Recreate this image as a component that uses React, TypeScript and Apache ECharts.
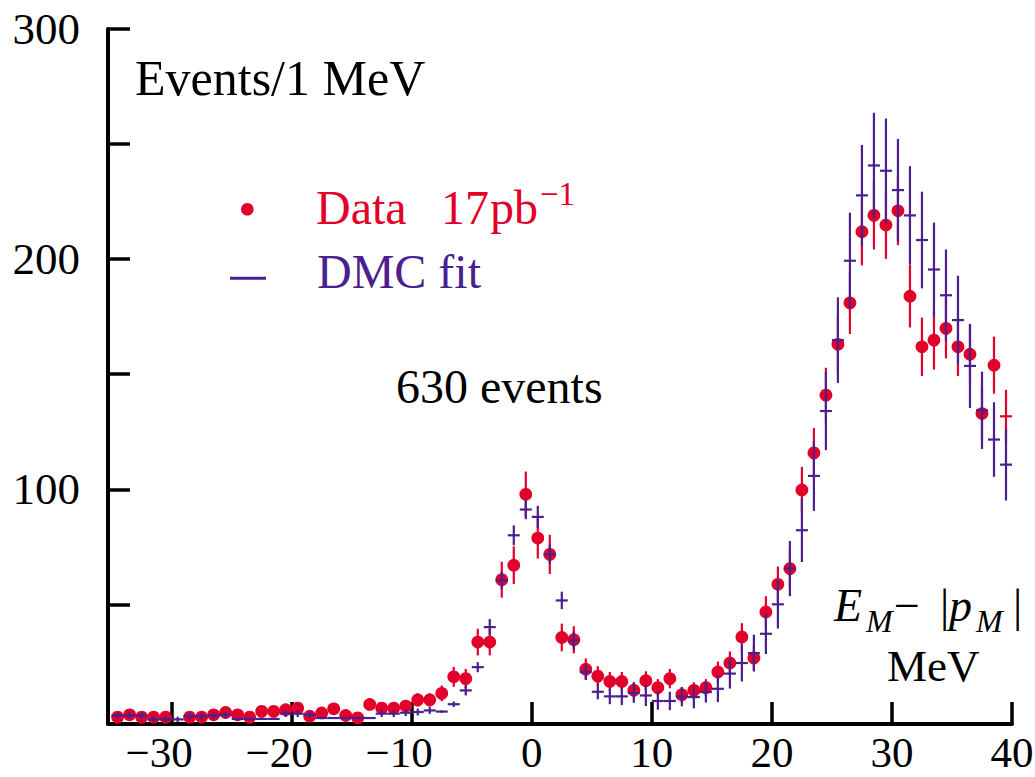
import React, { useEffect, useRef } from "react";
import * as echarts from "echarts";

// ---------- data ----------
const binCenters = [
  -34.5, -33.5, -32.5, -31.5, -30.5, -29.5, -28.5, -27.5, -26.5, -25.5,
  -24.5, -23.5, -22.5, -21.5, -20.5, -19.5, -18.5, -17.5, -16.5, -15.5,
  -14.5, -13.5, -12.5, -11.5, -10.5, -9.5, -8.5, -7.5, -6.5, -5.5,
  -4.5, -3.5, -2.5, -1.5, -0.5, 0.5, 1.5, 2.5, 3.5, 4.5,
  5.5, 6.5, 7.5, 8.5, 9.5, 10.5, 11.5, 12.5, 13.5, 14.5,
  15.5, 16.5, 17.5, 18.5, 19.5, 20.5, 21.5, 22.5, 23.5, 24.5,
  25.5, 26.5, 27.5, 28.5, 29.5, 30.5, 31.5, 32.5, 33.5, 34.5,
  35.5, 36.5, 37.5, 38.5, 39.5,
];

const dataCounts: (number | null)[] = [
  1, 2, 1, 1, 1, null, 1, 1, 2, 3,
  2, 1, 3.5, 3.5, 4.2, 4.9, 1.4, 2.8, 4.6, 1.7,
  0.7, 6.5, 4.9, 4.9, 5.8, 8.5, 8.5, 11.3, 18.5, 17.7,
  33.6, 33.6, 60.7, 67, 97.8, 78.8, 71.7, 35.6, 34.6, 21.8,
  18.8, 16.5, 16.5, 12.7, 16.8, 13.8, 17.7, 10.7, 12.6, 13.8,
  20.6, 24.5, 35.8, 26.7, 46.7, 58.7, 65.5, 99.7, 115.8, 140.9,
  163, 181, 211.9, 219, 214.8, 221, 183.9, 161.9, 164.8, 169.9,
  161.9, 158.7, 132.9, 153.9, 131.7,
];

const dataErrors = [
  1, 1.4, 1, 1, 1, 0, 1, 1, 1.4, 1.7,
  1.4, 1, 1.9, 1.9, 2, 2.2, 1.2, 1.7, 2.1, 1.3,
  0.8, 2.5, 2.2, 2.2, 2.4, 2.9, 2.9, 3.4, 4.3, 4.2,
  5.8, 5.8, 7.8, 8.2, 9.9, 8.9, 8.5, 6, 5.9, 4.7,
  4.3, 4.1, 4.1, 3.6, 4.1, 3.7, 4.2, 3.3, 3.5, 3.7,
  4.5, 5, 6, 5.2, 6.8, 7.7, 8.1, 10, 10.8, 11.9,
  12.8, 13.5, 14.6, 14.8, 14.7, 14.9, 13.6, 12.7, 12.8, 13,
  12.7, 12.6, 11.5, 12.4, 11.5,
];

// data bins drawn without a dot (only a cross)
const dataNoDot = [39.5];

const fitValues = [
  1.7, 1.7, 1.7, 0, 0, 0, 1.4, 1.4, 1.7, 2,
  0.2, 0.2, 0.2, 0.2, 2.5, 2.5, 2, 0.6, 0.6, 0.6,
  0.6, 0.6, 2.5, 2.5, 2.9, 3.2, 3.9, 3.4, 6.6, 12.6,
  22.7, 40.1, 60.4, 80, 91.2, 88, 71.7, 51.7, 34.3, 20.6,
  12, 10, 10, 11.5, 10.4, 8, 8, 9.9, 9.7, 11.9,
  13.3, 19.9, 24.5, 28.8, 37.2, 50, 65.5, 82.2, 105.8, 134,
  164.8, 199.3, 227.7, 240.7, 238.4, 230, 219, 208.3, 195.5, 184.3,
  173.5, 153.6, 134.3, 121.6, 110.7,
];

const fitErrors = [
  1.5, 1.5, 1.5, 1.2, 1.2, 1.2, 1.5, 1.5, 1.5, 1.5,
  0, 0, 0, 0, 1.5, 1.5, 1.5, 0, 0, 0,
  0, 0, 1.5, 1.5, 1.5, 1.5, 1.5, 0.5, 1.2, 2.2,
  2.2, 3.5, 3.8, 4.3, 4.2, 4.8, 4.2, 3.8, 4, 3.3,
  3.3, 3.4, 3.8, 4.3, 4.6, 3.8, 4, 4.2, 4.9, 4.6,
  5.8, 6.5, 8, 8, 8.8, 10.5, 12, 13.8, 15.2, 17,
  18.6, 20.9, 21.9, 22.9, 22.7, 22.2, 21.4, 21, 20.4, 19.9,
  19.3, 18.3, 16.8, 16.2, 15.6,
];

const xTicks = [-30, -20, -10, 0, 10, 20, 30, 40];
const yTicks = [50, 100, 150, 200, 250, 300];
const yLabels = [100, 200, 300];

// ---------- styles ----------
const RED = "#e2002b";
const PURPLE = "#4b1f8e";
const SERIF = '"Liberation Serif", "Times New Roman", serif';
const BIN_HALF = 0.5;

function txt(text: string, x: number, baseline: number, size: number, color: string, italic = false) {
  return {
    type: "text",
    x,
    y: baseline - 0.3375 * size,
    silent: true,
    style: {
      text,
      fill: color,
      font: `${italic ? "italic " : ""}${size}px ${SERIF}`,
      align: "left",
      verticalAlign: "middle",
    },
  };
}

export default function App() {
  const ref = useRef<HTMLDivElement | null>(null);

  useEffect(() => {
    if (!ref.current) return;
    const chart = echarts.init(ref.current, null, { renderer: "svg" });

    const dataSeries = binCenters
      .map((x, i) => [x, dataCounts[i], dataErrors[i], dataNoDot.includes(x) ? 0 : 1])
      .filter((d) => d[1] !== null);
    const fitSeries = binCenters.map((x, i) => [x, fitValues[i], fitErrors[i]]);

    const option: any = {
      animation: false,
      backgroundColor: "#ffffff",
      grid: { left: 108, top: 29, width: 904, height: 695, outerBoundsMode: "none" },
      xAxis: {
        type: "value",
        min: -35.3,
        max: 40,
        axisLine: { show: true, onZero: false, lineStyle: { color: "#000", width: 4 } },
        axisTick: {
          show: true,
          inside: true,
          length: 22,
          customValues: xTicks,
          lineStyle: { color: "#000", width: 3.5 },
        },
        axisLabel: {
          customValues: xTicks,
          margin: 10,
          color: "#000",
          fontSize: 43,
          lineHeight: 36,
          fontFamily: SERIF,
          formatter: (v: number) => (v < 0 ? `{n|\u2212${Math.abs(v)}}{p| }` : `{n|${v}}`),
          rich: {
            n: { fontSize: 43, lineHeight: 36, fontFamily: SERIF, color: "#000" },
            p: { width: 25, fontSize: 43, lineHeight: 36, fontFamily: SERIF },
          },
        },
        splitLine: { show: false },
      },
      yAxis: {
        type: "value",
        min: -2,
        max: 300,
        axisLine: { show: true, onZero: false, lineStyle: { color: "#000", width: 4 } },
        axisTick: {
          show: true,
          inside: true,
          length: 22,
          customValues: yTicks,
          lineStyle: { color: "#000", width: 3.5 },
        },
        axisLabel: {
          customValues: yLabels,
          margin: 28,
          color: "#000",
          fontSize: 45,
          fontFamily: SERIF,
        },
        splitLine: { show: false },
      },
      series: [
        {
          name: "Data 17 pb-1",
          type: "custom",
          z: 2,
          clip: true,
          data: dataSeries,
          renderItem: (_p: any, api: any) => {
            const x = api.value(0);
            const y = api.value(1);
            const e = api.value(2);
            const dot = api.value(3);
            const c = api.coord([x, y]);
            const top = api.coord([x, y + e]);
            const bot = api.coord([x, y - e]);
            const children: any[] = [];
            if (e > 0) {
              children.push({
                type: "line",
                shape: { x1: c[0], y1: top[1], x2: c[0], y2: bot[1] },
                style: { stroke: RED, lineWidth: 2.2 },
              });
            }
            if (dot) {
              children.push({
                type: "circle",
                shape: { cx: c[0], cy: c[1], r: 6.4 },
                style: { fill: RED },
              });
            } else {
              const l = api.coord([x - BIN_HALF, y]);
              const r = api.coord([x + BIN_HALF, y]);
              children.push({
                type: "line",
                shape: { x1: l[0], y1: c[1], x2: r[0], y2: c[1] },
                style: { stroke: RED, lineWidth: 2.2 },
              });
            }
            return { type: "group", children };
          },
        },
        {
          name: "DMC fit",
          type: "custom",
          z: 3,
          clip: true,
          data: fitSeries,
          renderItem: (_p: any, api: any) => {
            const x = api.value(0);
            const y = api.value(1);
            const e = api.value(2);
            const c = api.coord([x, y]);
            const l = api.coord([x - BIN_HALF, y]);
            const r = api.coord([x + BIN_HALF, y]);
            const children: any[] = [
              {
                type: "line",
                shape: { x1: l[0], y1: c[1], x2: r[0], y2: c[1] },
                style: { stroke: PURPLE, lineWidth: 2.2 },
              },
            ];
            if (e > 0) {
              const top = api.coord([x, y + e]);
              const bot = api.coord([x, y - e]);
              children.push({
                type: "line",
                shape: { x1: c[0], y1: top[1], x2: c[0], y2: bot[1] },
                style: { stroke: PURPLE, lineWidth: 2.2 },
              });
            }
            return { type: "group", children };
          },
        },
      ],
      graphic: {
        elements: [
          txt("Events/1 MeV", 135, 95, 50, "#000"),
          // legend
          {
            type: "circle",
            silent: true,
            shape: { cx: 247.3, cy: 209.3, r: 6.3 },
            style: { fill: RED },
          },
          txt("Data", 316, 224, 48, RED),
          txt("17", 441, 224, 48, RED),
          txt("pb", 490, 224, 48, RED),
          txt("\u22121", 540, 205, 33, RED),
          {
            type: "line",
            silent: true,
            shape: { x1: 230, y1: 278.3, x2: 266, y2: 278.3 },
            style: { stroke: PURPLE, lineWidth: 3 },
          },
          txt("DMC fit", 317, 288, 48, PURPLE),
          txt("630 events", 396, 403, 48, "#000"),
          // axis title E_M - |p_M|
          txt("E", 834, 621, 46, "#000", true),
          txt("M", 866, 632, 32, "#000", true),
          txt("\u2212", 894, 621, 46, "#000"),
          txt("|", 940, 621, 46, "#000"),
          txt("p", 949, 621, 46, "#000", true),
          txt("M", 976, 632, 32, "#000", true),
          txt("|", 1013, 621, 46, "#000"),
          txt("MeV", 887, 681, 45, "#000"),
        ],
      },
    };

    chart.setOption(option);
    return () => chart.dispose();
  }, []);

  return (
    <div
      ref={ref}
      style={{ position: "absolute", left: 0, top: 0, width: 1035, height: 777, background: "#fff" }}
    />
  );
}
